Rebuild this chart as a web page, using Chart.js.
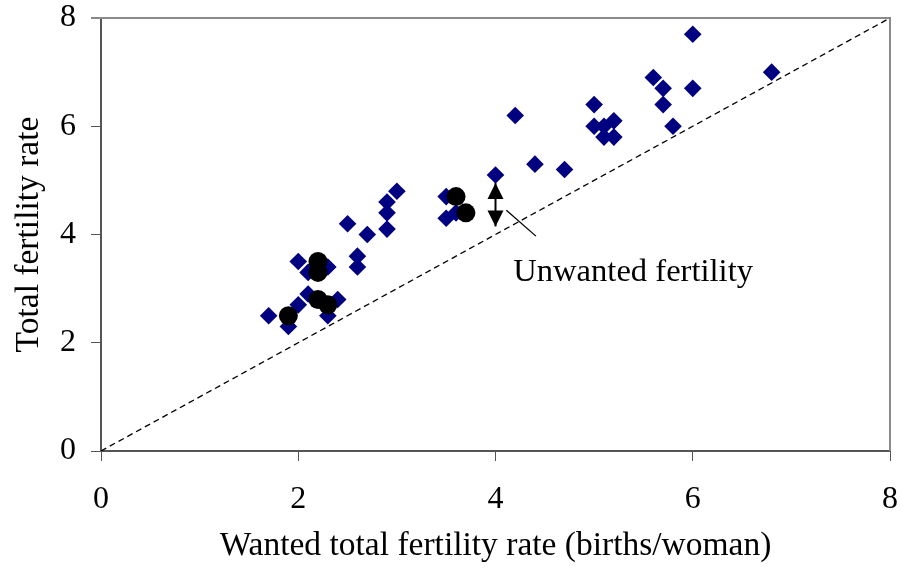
<!DOCTYPE html>
<html>
<head>
<meta charset="utf-8">
<script src="https://cdn.jsdelivr.net/npm/chart.js@4.4.0/dist/chart.umd.min.js"></script>
<style>
  html, body { margin: 0; padding: 0; background: #fff; }
  #wrap { width: 901px; height: 569px; }
</style>
</head>
<body>
<div id="wrap"><canvas id="fertilityChart"></canvas></div>
<script>
// Countries (diamonds): wanted total fertility vs total fertility
const wantedTfr = [1.7, 1.9, 2.0, 2.1, 2.0, 2.1, 2.3, 2.4, 2.3, 2.5, 2.7, 2.6, 2.6,
  2.9, 2.9, 2.9, 3.0, 3.5, 3.5, 3.6, 4.0, 4.4, 4.7, 4.2, 5.0, 5.0, 5.1, 5.2,
  5.1, 5.2, 5.6, 5.7, 5.7, 5.8, 6.0, 6.0, 6.8];
const totalTfr = [2.5, 2.3, 2.7, 2.9, 3.5, 3.3, 3.4, 2.8, 2.5, 4.2, 4.0, 3.6, 3.4,
  4.6, 4.4, 4.1, 4.8, 4.7, 4.3, 4.4, 5.1, 5.3, 5.2, 6.2, 6.4, 6.0, 6.0, 6.1,
  5.8, 5.8, 6.9, 6.7, 6.4, 6.0, 7.7, 6.7, 7.0];

// Highlighted countries (black circles)
const highlightWanted = [1.9, 2.2, 2.3, 2.2, 2.2, 3.6, 3.7];
const highlightTotal = [2.5, 2.8, 2.7, 3.3, 3.5, 4.7, 4.4];

// Line of equality (wanted = total)
const equalityX = [0, 8];
const equalityY = [0, 8];

// Tick values
const xTicks = [0, 2, 4, 6, 8];
const yTicks = [0, 2, 4, 6, 8];

// "Unwanted fertility" annotation
const arrowX = [4.0, 4.0];
const arrowY = [4.15, 4.95];
const leaderX = [4.11, 4.41];
const leaderY = [4.45, 3.97];
const labelText = "Unwanted fertility";
const labelPos = [4.18, 3.29];

const toPoints = (xs, ys) => xs.map((x, i) => ({ x: x, y: ys[i] }));

const FONT = "'Liberation Serif', 'Times New Roman', serif";
const AXIS_COLOR = "#555555";

/**
 * Draws the gray frame on the top and right of the plot area
 */
const framePlugin = {
  id: "frame",
  beforeDatasetsDraw(chart) {
    const { ctx, chartArea } = chart;
    ctx.save();
    ctx.strokeStyle = "#8a8a8a";
    ctx.lineWidth = 2;
    ctx.beginPath();
    ctx.moveTo(chartArea.left - 10, chartArea.top);
    ctx.lineTo(chartArea.right, chartArea.top);
    ctx.lineTo(chartArea.right, chartArea.bottom);
    ctx.stroke();
    ctx.restore();
  },
};

/**
 * Arrow heads and the annotation text
 */
const annotationPlugin = {
  id: "annotation",
  afterDatasetsDraw(chart) {
    const { ctx } = chart;
    const xs = chart.scales.x;
    const ys = chart.scales.y;
    const px = xs.getPixelForValue(arrowX[0]);
    const yLow = ys.getPixelForValue(arrowY[0]);
    const yHigh = ys.getPixelForValue(arrowY[1]);
    const halfW = 8;
    const headH = 16;

    ctx.save();
    ctx.fillStyle = "#000";
    // top head
    ctx.beginPath();
    ctx.moveTo(px, yHigh);
    ctx.lineTo(px - halfW, yHigh + headH);
    ctx.lineTo(px + halfW, yHigh + headH);
    ctx.closePath();
    ctx.fill();
    // bottom head
    ctx.beginPath();
    ctx.moveTo(px, yLow);
    ctx.lineTo(px - halfW, yLow - headH);
    ctx.lineTo(px + halfW, yLow - headH);
    ctx.closePath();
    ctx.fill();

    ctx.font = "32.6px " + FONT;
    ctx.textAlign = "left";
    ctx.textBaseline = "middle";
    ctx.fillText(labelText, xs.getPixelForValue(labelPos[0]), ys.getPixelForValue(labelPos[1]));
    ctx.restore();
  },
};

const canvas = document.getElementById("fertilityChart");

new Chart(canvas, {
  type: "scatter",
  data: {
    datasets: [
      {
        label: "Highlighted",
        data: toPoints(highlightWanted, highlightTotal),
        pointStyle: "circle",
        pointRadius: 9.5,
        pointBackgroundColor: "#000",
        pointBorderWidth: 0,
        order: 0,
      },
      {
        label: "Arrow",
        type: "line",
        data: toPoints(arrowX, arrowY),
        borderColor: "#000",
        borderWidth: 2,
        pointRadius: 0,
        order: 1,
      },
      {
        label: "Leader",
        type: "line",
        data: toPoints(leaderX, leaderY),
        borderColor: "#000",
        borderWidth: 1.3,
        pointRadius: 0,
        order: 1,
      },
      {
        label: "Countries",
        data: toPoints(wantedTfr, totalTfr),
        pointStyle: "rectRot",
        pointRadius: 8.8,
        pointBackgroundColor: "#000080",
        pointBorderWidth: 0,
        order: 2,
      },
      {
        label: "Equality",
        type: "line",
        data: toPoints(equalityX, equalityY),
        borderColor: "#000",
        borderWidth: 1.3,
        borderDash: [6, 4],
        pointRadius: 0,
        order: 3,
      },
    ],
  },
  options: {
    responsive: true,
    maintainAspectRatio: false,
    animation: false,
    layout: { padding: { top: 18, right: 11, left: 0, bottom: 0 } },
    plugins: {
      legend: { display: false },
      tooltip: { enabled: false },
    },
    scales: {
      x: {
        type: "linear",
        min: 0,
        max: 8,
        afterBuildTicks: (scale) => {
          scale.ticks = xTicks.map((v) => ({ value: v }));
        },
        afterFit: (scale) => {
          scale.height = 118;
          scale.paddingLeft = 0;
          scale.paddingRight = 0;
        },
        ticks: {
          color: "#000",
          font: { family: FONT, size: 32 },
          padding: 19,
          maxRotation: 0,
        },
        grid: {
          drawOnChartArea: false,
          drawTicks: true,
          tickLength: 10,
          color: AXIS_COLOR,
        },
        border: { color: AXIS_COLOR, width: 2 },
        title: {
          display: true,
          text: "Wanted total fertility rate (births/woman)",
          color: "#000",
          font: { family: FONT, size: 33.5 },
          padding: { top: 0, bottom: 3 },
        },
      },
      y: {
        type: "linear",
        min: 0,
        max: 8,
        afterBuildTicks: (scale) => {
          scale.ticks = yTicks.map((v) => ({ value: v }));
        },
        afterFit: (scale) => {
          scale.width = 101;
          scale.paddingTop = 0;
          scale.paddingBottom = 0;
        },
        ticks: {
          color: "#000",
          font: { family: FONT, size: 32 },
          padding: 15,
        },
        grid: {
          drawOnChartArea: false,
          drawTicks: true,
          tickLength: 10,
          color: AXIS_COLOR,
        },
        border: { color: AXIS_COLOR, width: 2 },
        title: {
          display: true,
          text: "Total fertility rate",
          color: "#000",
          font: { family: FONT, size: 33.5 },
          padding: { top: 9, bottom: 0 },
        },
      },
    },
  },
  plugins: [framePlugin, annotationPlugin],
});
</script>
</body>
</html>
